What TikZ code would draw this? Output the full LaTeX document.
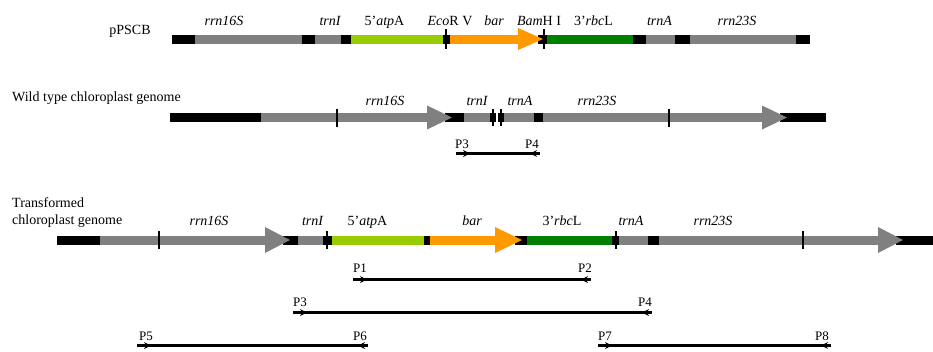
\documentclass[tikz,border=0pt]{standalone}
\usepackage{fontspec}
\setmainfont{Liberation Serif}
\usetikzlibrary{arrows.meta,decorations.markings}
\definecolor{seggrey}{RGB}{128,128,128}
\definecolor{atpgreen}{RGB}{153,204,0}
\definecolor{barorange}{RGB}{255,153,0}
\definecolor{rbcgreen}{RGB}{0,128,0}
\newcommand\gseg[4]{\fill[#1] (#2,#4-4.5) rectangle (#3,#4+4.5);}
\newcommand\ghead[5]{\fill[#1] (#2,#4-#5) -- (#3,#4) -- (#2,#4+#5) -- cycle;}
\newcommand\gtick[3]{\draw[line width=2pt] (#1,#2-#3) -- (#1,#2+#3);}
\tikzset{
  lbl/.style={font=\fontsize{14}{17}\selectfont, inner sep=0pt, anchor=base},
  plabel/.style={font=\fontsize{13}{15}\selectfont, inner sep=0pt, anchor=base},
  primer/.style={line width=2.4pt, postaction={decorate},
    decoration={markings,
      mark=at position 14pt with {\arrow{Stealth[length=7pt,width=7pt,line width=0pt]}},
      mark=at position -10pt with {\arrowreversed{Stealth[length=7pt,width=7pt,line width=0pt]}}}}
}
\begin{document}
\begin{tikzpicture}[x=1pt,y=-1pt]
\useasboundingbox (0,0) rectangle (933,351);
% ---------- Row 1: pPSCB ----------
\node[lbl] (pscb) at (130,34) {pPSCB};
\gseg{black}{172}{195}{39}
\gseg{seggrey}{195}{302}{39}
\gseg{black}{302}{315}{39}
\gseg{seggrey}{315}{341}{39}
\gseg{black}{341}{351}{39}
\gseg{atpgreen}{351}{443}{39}
\gseg{black}{443}{450}{39}
\gseg{barorange}{450}{519}{39}
\gseg{black}{538}{547}{39}
\gseg{rbcgreen}{547}{633}{39}
\gseg{black}{633}{646}{39}
\gseg{seggrey}{646}{675}{39}
\gseg{black}{675}{690}{39}
\gseg{seggrey}{690}{796}{39}
\gseg{black}{796}{810}{39}
\ghead{barorange}{518}{543}{39}{11}
\gtick{445.5}{39}{10}
\gtick{544}{39}{10}
\node[lbl] (r1a) at (224,25) {\itshape rrn16S};
\node[lbl] (r1b) at (330,25) {\itshape trnI};
\node[lbl] (r1c) at (384.5,25) {5’\textit{atp}A};
\node[lbl] (r1d) at (450,25) {\textit{Eco}R V};
\node[lbl] (r1e) at (494,25) {\itshape bar};
\node[lbl] (r1f) at (539,25) {\textit{Bam}H I};
\node[lbl] (r1g) at (593.5,25) {3’\textit{rbc}L};
\node[lbl] (r1h) at (659.5,25) {\itshape trnA};
\node[lbl] (r1i) at (737,25) {\itshape rrn23S};
% ---------- Row 2: wild type ----------
\node[lbl,anchor=base west] (wt) at (12,101) {Wild type chloroplast genome};
\gseg{black}{170}{261}{117.5}
\gseg{seggrey}{261}{430}{117.5}
\gseg{black}{445}{464}{117.5}
\gseg{seggrey}{464}{490}{117.5}
\gseg{black}{490}{504}{117.5}
\gseg{white}{495.5}{498}{117.5}
\gseg{seggrey}{504}{534}{117.5}
\gseg{black}{534}{543}{117.5}
\gseg{seggrey}{543}{765}{117.5}
\gseg{black}{780}{826}{117.5}
\ghead{seggrey}{427}{452}{117.5}{12}
\ghead{seggrey}{762}{787}{117.5}{12}
\gtick{337}{117.5}{9}
\gtick{493}{117.5}{8.5}
\gtick{500.5}{117.5}{8.5}
\gtick{669}{117.5}{9}
\node[lbl] (r2a) at (385,105) {\itshape rrn16S};
\node[lbl] (r2b) at (477,105) {\itshape trnI};
\node[lbl] (r2c) at (520,105) {\itshape trnA};
\node[lbl] (r2d) at (597,105) {\itshape rrn23S};
\coordinate (wp3) at (456,153.5);
\coordinate (wp4) at (540,153.5);
\draw[primer] (wp3) -- (wp4);
\node[plabel] (wp3l) at (462,148.5) {P3};
\node[plabel] (wp4l) at (532,148.5) {P4};
% ---------- Row 3: transformed ----------
\node[lbl,anchor=base west] (tr1) at (12,207) {Transformed};
\node[lbl,anchor=base west] (tr2) at (12,224) {chloroplast genome};
\gseg{black}{57}{100}{240}
\gseg{seggrey}{100}{268}{240}
\gseg{black}{283}{298}{240}
\gseg{seggrey}{298}{323}{240}
\gseg{black}{323}{332}{240}
\gseg{atpgreen}{332}{424}{240}
\gseg{black}{424}{430}{240}
\gseg{barorange}{430}{497}{240}
\gseg{black}{515}{527}{240}
\gseg{rbcgreen}{527}{612}{240}
\gseg{black}{612}{619}{240}
\gseg{seggrey}{619}{648}{240}
\gseg{black}{648}{659}{240}
\gseg{seggrey}{659}{880}{240}
\gseg{black}{896}{933}{240}
\ghead{seggrey}{265}{290}{240}{13}
\ghead{barorange}{495}{522}{240}{13}
\ghead{seggrey}{878}{903}{240}{13}
\gtick{159}{240}{9}
\gtick{327}{240}{9}
\gtick{616}{240}{9}
\gtick{803}{240}{9}
\node[lbl] (r3a) at (209,225) {\itshape rrn16S};
\node[lbl] (r3b) at (312.5,225) {\itshape trnI};
\node[lbl] (r3c) at (367.5,225) {5’\textit{atp}A};
\node[lbl] (r3d) at (472,225) {\itshape bar};
\node[lbl] (r3e) at (562,225) {3’\textit{rbc}L};
\node[lbl] (r3f) at (631,225) {\itshape trnA};
\node[lbl] (r3g) at (713,225) {\itshape rrn23S};
% primers
\coordinate (p1) at (353,279.5);
\coordinate (p2) at (591,279.5);
\draw[primer] (p1) -- (p2);
\node[plabel] (p1l) at (360,272.5) {P1};
\node[plabel] (p2l) at (585,272.5) {P2};
\coordinate (tp3) at (293,312.5);
\coordinate (tp4) at (652,312.5);
\draw[primer] (tp3) -- (tp4);
\node[plabel] (tp3l) at (300,306.5) {P3};
\node[plabel] (tp4l) at (645,306.5) {P4};
\coordinate (p5) at (137,345.5);
\coordinate (p6) at (368,345.5);
\draw[primer] (p5) -- (p6);
\node[plabel] (p5l) at (146,340) {P5};
\node[plabel] (p6l) at (360,340) {P6};
\coordinate (p7) at (598,345.5);
\coordinate (p8) at (831,345.5);
\draw[primer] (p7) -- (p8);
\node[plabel] (p7l) at (605,340) {P7};
\node[plabel] (p8l) at (822,340) {P8};
\end{tikzpicture}
\end{document}
